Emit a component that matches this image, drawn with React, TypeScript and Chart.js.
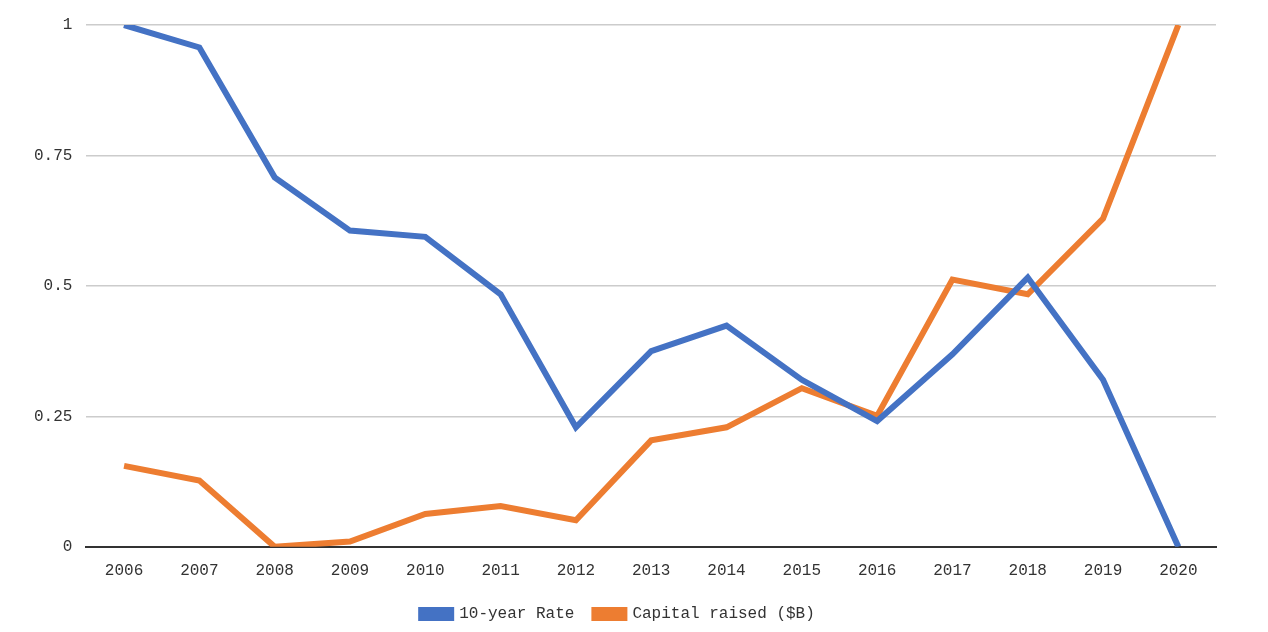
import React, { useEffect, useRef } from "react";
import { Chart, registerables } from "chart.js";
Chart.register(...registerables);

const years = ["2006","2007","2008","2009","2010","2011","2012","2013","2014","2015","2016","2017","2018","2019","2020"];
const rate = [1.0,0.957,0.708,0.606,0.594,0.484,0.229,0.375,0.424,0.32,0.241,0.369,0.516,0.32,0];
const capital = [0.155,0.127,0,0.01,0.063,0.078,0.051,0.204,0.229,0.304,0.251,0.512,0.484,0.629,1.0];
const yTicks = [0, 0.25, 0.5, 0.75, 1];

export default function App() {
  const ref = useRef<HTMLCanvasElement>(null);
  useEffect(() => {
    document.body.style.margin = "0";
    const font = { family: "Liberation Mono, DejaVu Sans Mono, monospace", size: 16 };
    const chart = new Chart(ref.current!, {
      type: "line",
      data: {
        labels: years,
        datasets: [
          { label: "10-year Rate", data: rate, borderColor: "#4472c4", backgroundColor: "#4472c4", borderWidth: 6, pointRadius: 0, tension: 0 },
          { label: "Capital raised ($B)", data: capital, borderColor: "#ed7d31", backgroundColor: "#ed7d31", borderWidth: 6, pointRadius: 0, tension: 0 },
        ],
      },
      options: {
        animation: false,
        responsive: false,
        layout: { padding: { top: 25, right: 52, left: 20, bottom: 0 } },
        plugins: {
          legend: {
            position: "bottom",
            labels: { font, color: "#333", boxWidth: 30, boxHeight: 8, padding: 20 },
          },
          tooltip: { enabled: false },
        },
        scales: {
          x: {
            offset: true,
            grid: { display: false },
            border: { color: "#333", width: 2 },
            ticks: { font, color: "#333", padding: 6 },
          },
          y: {
            min: 0,
            max: 1,
            afterBuildTicks: (ax: any) => { ax.ticks = yTicks.map((v) => ({ value: v })); },
            grid: { color: "#cccccc", lineWidth: 1.5, drawTicks: false },
            border: { display: false },
            ticks: { font, color: "#333", padding: 14, callback: (v: any) => String(v) },
          },
        },
      },
    });
    return () => chart.destroy();
  }, []);
  return <canvas ref={ref} width={1268} height={632} style={{ display: "block" }} />;
}
